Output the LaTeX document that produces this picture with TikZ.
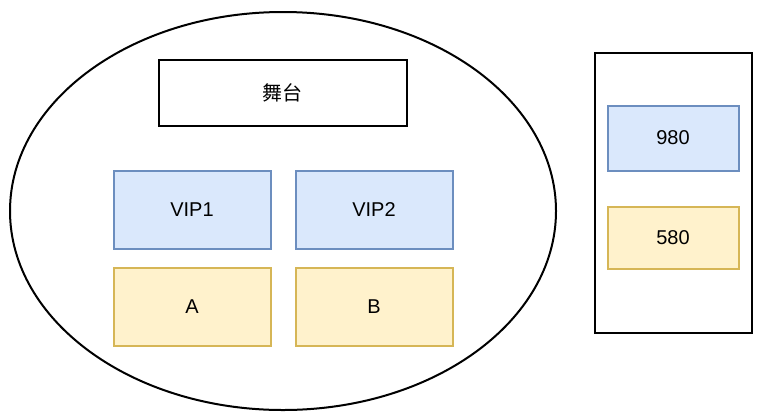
\documentclass[tikz,border=0pt]{standalone}
\usepackage{fontspec}
\setmainfont{Liberation Sans}
\newfontfamily\cjk{Noto Sans CJK SC}
\usetikzlibrary{shapes.geometric}
\definecolor{bluefill}{HTML}{DAE8FC}
\definecolor{bluedraw}{HTML}{6C8EBF}
\definecolor{yelfill}{HTML}{FFF2CC}
\definecolor{yeldraw}{HTML}{D6B656}
\tikzset{
  box/.style={rectangle, line width=2pt, inner sep=0pt, font=\fontsize{20}{24}\selectfont},
  bluebox/.style={box, draw=bluedraw, fill=bluefill},
  yelbox/.style={box, draw=yeldraw, fill=yelfill},
  plainbox/.style={box, draw=black, fill=white},
}
\begin{document}
\begin{tikzpicture}[x=1pt,y=-1pt]
\useasboundingbox (0,0) rectangle (759,418);
\node[ellipse, draw=black, line width=2pt, minimum width=546pt, minimum height=398pt, inner sep=0pt] (hall) at (283,211) {};
\node[plainbox, minimum width=248pt, minimum height=66pt] (stage) at (282.5,92.5) {\cjk 舞台};
\node[bluebox, minimum width=157pt, minimum height=78pt] (vip1) at (192,209.5) {VIP1};
\node[bluebox, minimum width=157pt, minimum height=78pt] (vip2) at (374,209.5) {VIP2};
\node[yelbox, minimum width=157pt, minimum height=78pt] (a) at (192,306.5) {A};
\node[yelbox, minimum width=157pt, minimum height=78pt] (b) at (374,306.5) {B};
\node[plainbox, minimum width=157pt, minimum height=280pt] (legend) at (673,193) {};
\node[bluebox, minimum width=131pt, minimum height=65pt] (p980) at (673,138) {980};
\node[yelbox, minimum width=131pt, minimum height=62pt] (p580) at (673,238) {580};
\end{tikzpicture}
\end{document}
